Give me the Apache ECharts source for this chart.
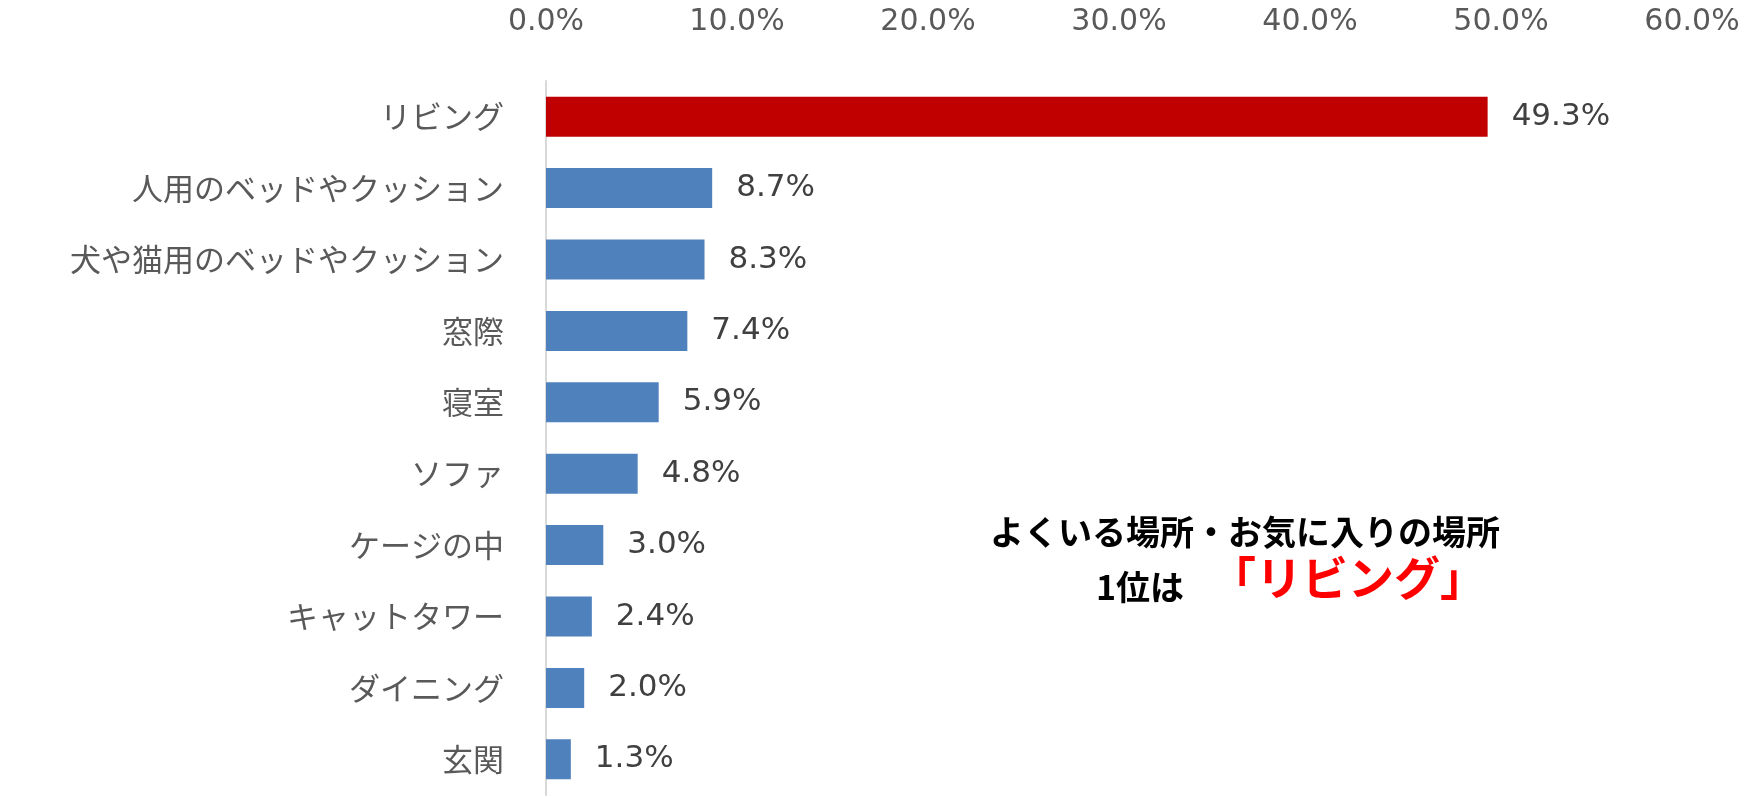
<!DOCTYPE html>
<html>
<head>
<meta charset="utf-8">
<script src="https://cdn.jsdelivr.net/npm/echarts@6/dist/echarts.min.js"></script>
<style>
  html, body { margin: 0; padding: 0; background: #fff; }
  #chart { width: 1747px; height: 797px; }
</style>
</head>
<body>
<div id="chart"></div>
<script>
// データ
const categories = ['リビング', '人用のベッドやクッション', '犬や猫用のベッドやクッション', '窓際', '寝室', 'ソファ', 'ケージの中', 'キャットタワー', 'ダイニング', '玄関'];
const values = [49.3, 8.7, 8.3, 7.4, 5.9, 4.8, 3.0, 2.4, 2.0, 1.3];
const highlightColor = '#C00000';
const barColor = '#4F81BD';
const font = '"DejaVu Sans", "Noto Sans CJK JP", sans-serif';
const boldFont = '"Noto Sans CJK JP", sans-serif';

const chart = echarts.init(document.getElementById('chart'));

chart.setOption({
  animation: false,
  grid: { left: 546, right: 55, top: 81, bottom: 2 },
  xAxis: {
    type: 'value',
    position: 'top',
    min: 0,
    max: 60,
    interval: 10,
    axisLine: { show: false },
    axisTick: { show: false },
    splitLine: { show: false },
    axisLabel: {
      color: '#595959',
      fontSize: 30,
      fontFamily: font,
      margin: 44,
      formatter: v => v.toFixed(1) + '%'
    }
  },
  yAxis: {
    type: 'category',
    data: categories,
    inverse: true,
    axisLine: { show: true, lineStyle: { color: '#D9D9D9', width: 2 } },
    axisTick: { show: false },
    axisLabel: { color: '#595959', fontSize: 31, fontFamily: boldFont, margin: 42 }
  },
  series: [{
    type: 'bar',
    barWidth: '56%',
    data: values.map((v, i) => ({
      value: v,
      itemStyle: { color: i === 0 ? highlightColor : barColor }
    })),
    label: {
      show: true,
      position: 'right',
      distance: 24,
      color: '#404040',
      fontSize: 31,
      fontFamily: font,
      formatter: p => p.value.toFixed(1) + '%'
    }
  }],
  graphic: [{
    type: 'text',
    left: 990,
    top: 515,
    style: {
      text: 'よくいる場所・お気に入りの場所',
      fill: '#000',
      font: 'bold 34px ' + boldFont
    }
  }, {
    type: 'text',
    left: 1096,
    top: 570,
    style: {
      text: '1位は',
      fill: '#000',
      font: 'bold 34px ' + boldFont
    }
  }, {
    type: 'text',
    left: 1210,
    top: 555,
    style: {
      text: '「リビング」',
      fill: '#FF0000',
      font: 'bold 46px ' + boldFont
    }
  }]
});
</script>
</body>
</html>
